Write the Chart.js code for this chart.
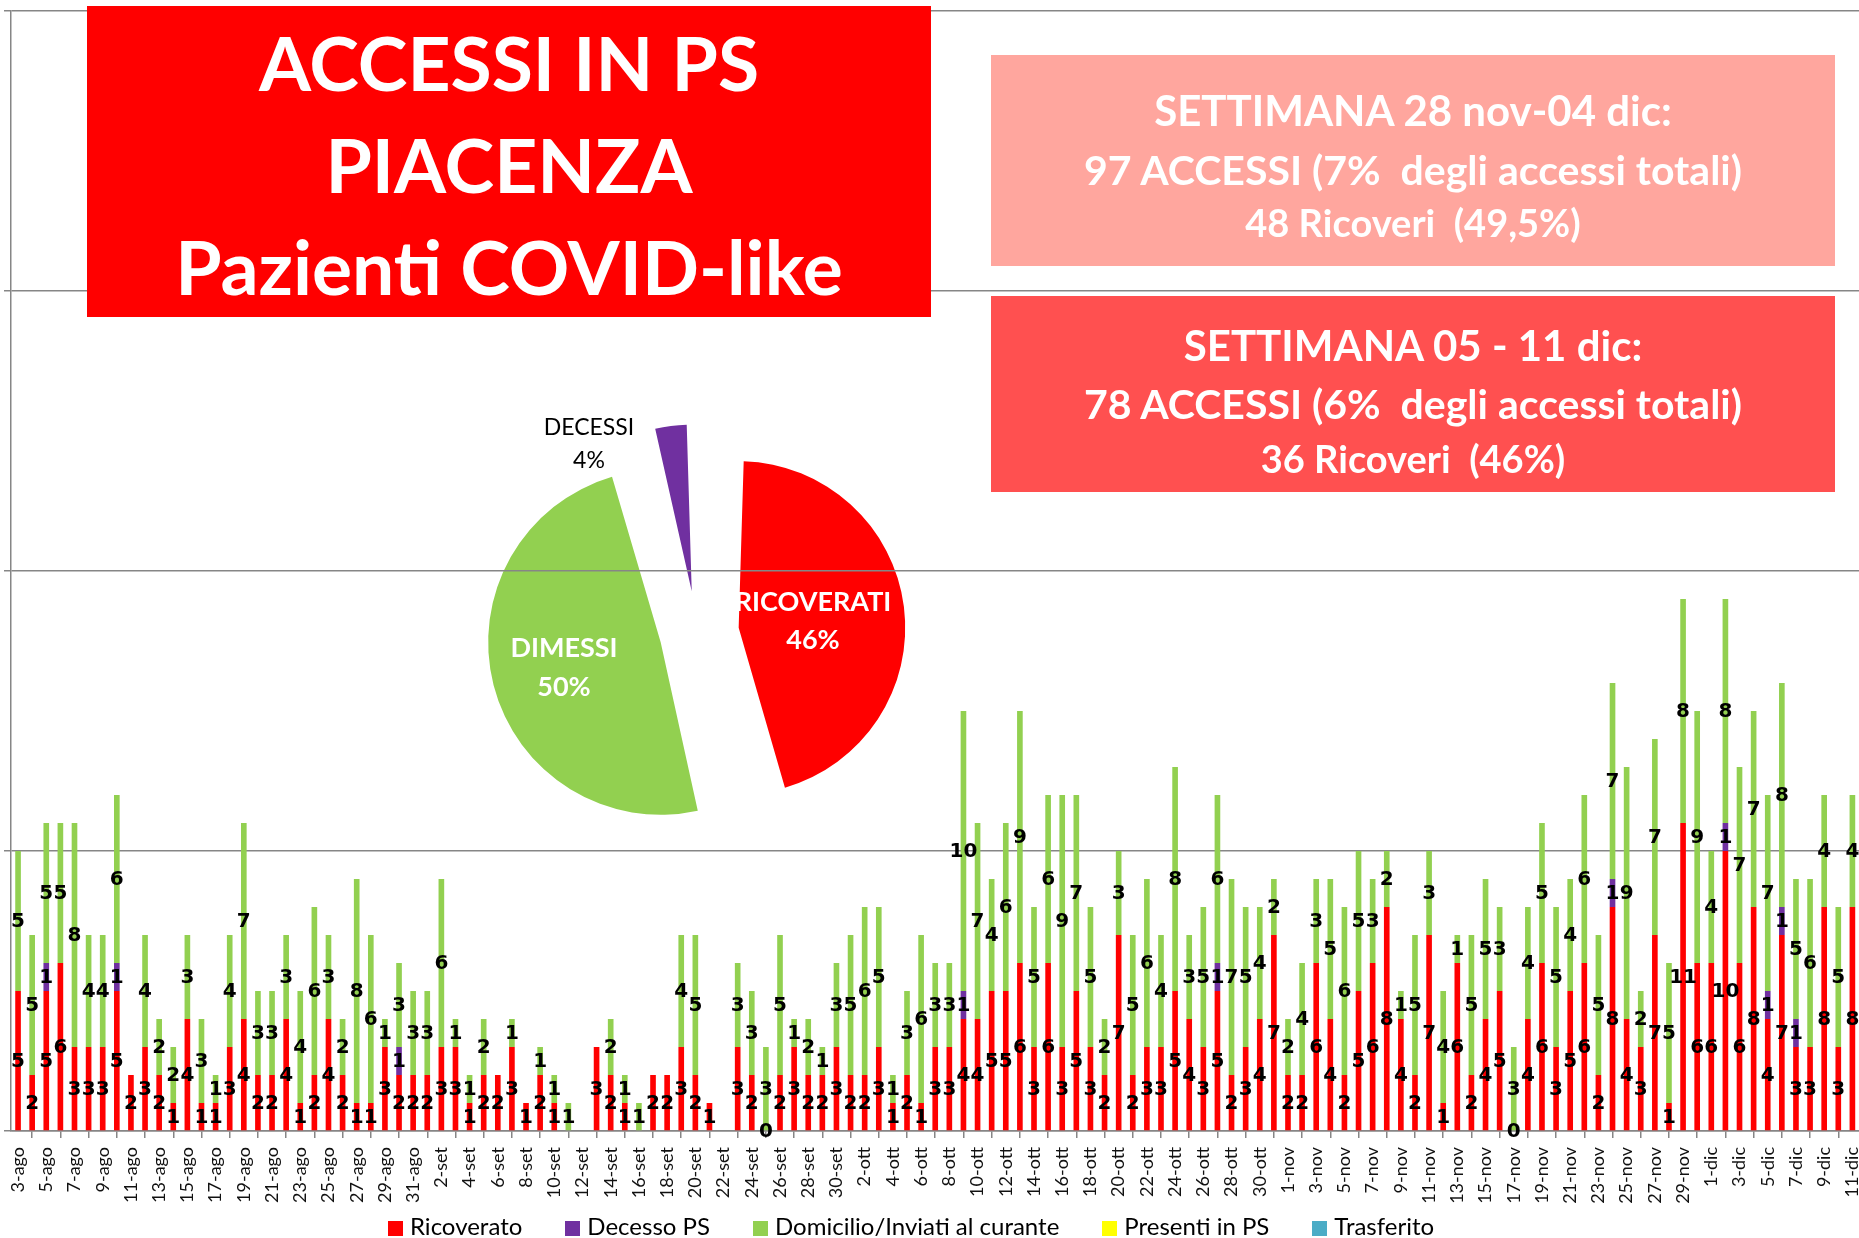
<!DOCTYPE html>
<html>
<head>
<meta charset="utf-8">
<script src="https://cdn.jsdelivr.net/npm/chart.js@4.4.0/dist/chart.umd.min.js"></script>
<style>
  body { margin: 0; background: #fff; width: 1859px; height: 1238px; overflow: hidden; position: relative; font-family: Lato, sans-serif; }
  #pie { position: absolute; left: 448px; top: 384px; }
  #bars { position: absolute; left: 0; top: 0; }
  .box { position: absolute; color: #fff; font-weight: bold; }
  .line { position: absolute; left: 0; right: 0; height: 100px; line-height: 100px; text-align: center; white-space: pre; }
  #legend { position: absolute; left: 388px; top: 1210px; height: 30px; display: flex; align-items: center; gap: 43px; font-size: 24px; color: #000; }
  #legend span.sw { display: inline-block; width: 15px; height: 15px; margin-right: 7px; vertical-align: middle; }
</style>
</head>
<body>
<canvas id="pie" width="498" height="498"></canvas>
<canvas id="bars" width="1883" height="1238"></canvas>

<div class="box" style="left:87px;top:6px;width:844px;height:311px;background:#FF0000;font-size:75px">
  <div class="line" style="top:6px">ACCESSI IN PS</div>
  <div class="line" style="top:108px">PIACENZA</div>
  <div class="line" style="top:210px">Pazienti COVID-like</div>
</div>
<div class="box" style="left:991px;top:55px;width:844px;height:211px;background:#FFA69E">
  <div class="line" style="top:5px;font-size:42px">SETTIMANA 28 nov-04 dic:</div>
  <div class="line" style="top:65px;font-size:41px">97 ACCESSI (7%  degli accessi totali)</div>
  <div class="line" style="top:117px;font-size:38px">48 Ricoveri  (49,5%)</div>
</div>
<div class="box" style="left:991px;top:296px;width:844px;height:196px;background:#FF5050">
  <div class="line" style="top:-1px;font-size:42px">SETTIMANA 05 - 11 dic:</div>
  <div class="line" style="top:58px;font-size:41px">78 ACCESSI (6%  degli accessi totali)</div>
  <div class="line" style="top:112px;font-size:38px">36 Ricoveri  (46%)</div>
</div>
<div id="legend"></div>

<script>
const _ = null;

// giorni 3-ago .. 11-dic
const months = [['ago', 3, 31], ['set', 1, 30], ['ott', 1, 31], ['nov', 1, 30], ['dic', 1, 11]];
const days = [];
months.forEach(([m, from, to]) => {
  for (let d = from; d <= to; d++) days.push(d + '-' + m);
});

const ricoverato = [
  5,2,5,6,3,3,3,5,2,3, 2,1,4,1,1,3,4,2,2,4, 1,2,4,2,1,1,3,2,2,            // ago
  2,3,3,1,2,2,3,1,2,1, _,_,3,2,1,_,2,2,3,2, 1,_,3,2,0,2,3,2,2,3,          // set
  2,2,3,1,2,1,3,3,4,4, 5,5,6,3,6,3,5,3,2,7, 2,3,3,5,4,3,5,2,3,4,7,        // ott
  2,2,6,4,2,5,6,8,4,2, 7,1,6,2,4,5,0,4,6,3, 5,6,2,8,4,3,7,1,11,6,         // nov
  6,10,6,8,4,7,3,3,8,3,8                                                  // dic
];
const decesso = [
  _,_,1,_,_,_,_,1,_,_, _,_,_,_,_,_,_,_,_,_, _,_,_,_,_,_,_,1,_,
  _,_,_,_,_,_,_,_,_,_, _,_,_,_,_,_,_,_,_,_, _,_,_,_,_,_,_,_,_,_,
  _,_,_,_,_,_,_,_,1,_, _,_,_,_,_,_,_,_,_,_, _,_,_,_,_,_,1,_,_,_,_,
  _,_,_,_,_,_,_,_,_,_, _,_,_,_,_,_,_,_,_,_, _,_,_,1,_,_,_,_,_,_,
  _,1,_,_,1,1,1,_,_,_,_
];
const domicilio = [
  5,5,5,5,8,4,4,6,_,4, 2,2,3,3,1,4,7,3,3,3, 4,6,3,2,8,6,1,3,3,
  3,6,1,1,2,_,1,_,1,1, 1,_,_,2,1,1,_,_,4,5, _,_,3,3,3,5,1,2,1,3,
  5,6,5,1,3,6,3,3,10,7, 4,6,9,5,6,9,7,5,2,3, 5,6,4,8,3,5,6,7,5,4,2,
  2,4,3,5,6,5,3,2,1,5, 3,4,1,5,5,3,3,4,5,5, 4,6,5,7,9,2,7,5,8,9,
  4,8,7,7,7,8,5,6,4,5,4
];
const presenti = [];
const trasferito = [];

const pieNames = ['RICOVERATI', 'DIMESSI', 'DECESSI'];
const pieValues = [46, 50, 4];

const GRAY = '#868686';

const barLabels = {
  id: 'barLabels',
  afterDatasetsDraw(chart) {
    const ctx = chart.ctx;
    ctx.save();
    ctx.font = 'bold 20px "DejaVu Sans"';
    ctx.fillStyle = '#000';
    ctx.textAlign = 'center';
    ctx.textBaseline = 'middle';
    chart.data.datasets.forEach((ds, i) => {
      chart.getDatasetMeta(i).data.forEach((bar, j) => {
        const v = ds.data[j];
        if (v == null) return;
        ctx.fillText(String(v), bar.x, (bar.y + bar.base) / 2 + 1);
      });
    });
    ctx.restore();
  }
};

const barChart = new Chart(document.getElementById('bars'), {
  type: 'bar',
  data: {
    labels: days,
    datasets: [
      { label: 'Ricoverato', data: ricoverato, backgroundColor: '#FF0000' },
      { label: 'Decesso PS', data: decesso, backgroundColor: '#7030A0' },
      { label: 'Domicilio/Inviati al curante', data: domicilio, backgroundColor: '#92D050' },
      { label: 'Presenti in PS', data: presenti, backgroundColor: '#FFFF00' },
      { label: 'Trasferito', data: trasferito, backgroundColor: '#4BACC6' }
    ]
  },
  options: {
    responsive: false,
    animation: false,
    barPercentage: 0.4,
    categoryPercentage: 1,
    layout: { padding: { top: 11, left: 4, right: 0, bottom: 0 } },
    plugins: { legend: { display: false }, tooltip: { enabled: false } },
    scales: {
      x: {
        stacked: true,
        grid: { offset: true, drawOnChartArea: false, tickLength: 7, color: GRAY, lineWidth: 1.5 },
        border: { color: GRAY, width: 1.5 },
        ticks: {
          autoSkip: false, minRotation: 90, maxRotation: 90, padding: 9,
          color: '#111', font: { family: 'Lato', size: 18 },
          callback: (v, i) => i % 2 === 0 ? days[i] : null
        },
        afterFit: s => { s.height = 107; }
      },
      y: {
        stacked: true, min: 0, max: 40,
        ticks: { display: false, stepSize: 10 },
        grid: { color: GRAY, lineWidth: 1.5, tickLength: 7 },
        border: { color: GRAY, width: 1.5 }
      }
    }
  },
  plugins: [barLabels]
});

// legenda
const legend = document.getElementById('legend');
barChart.data.datasets.forEach(ds => {
  const item = document.createElement('div');
  item.innerHTML = '<span class="sw" style="background:' + ds.backgroundColor + '"></span>' + ds.label;
  legend.appendChild(item);
});

const pieText = {
  id: 'pieText',
  afterDatasetsDraw(chart) {
    const ctx = chart.ctx;
    const a = chart.chartArea;
    const cx = (a.left + a.right) / 2, cy = (a.top + a.bottom) / 2;
    const place = [
      { dx: 116, dy: -31, gap: 38, font: 'bold 27px Lato', color: '#fff' },
      { dx: -133, dy: 15, gap: 39, font: 'bold 27px Lato', color: '#fff' },
      { dx: -108, dy: -205, gap: 33, font: '23px Lato', color: '#000' }
    ];
    ctx.save();
    ctx.textAlign = 'center';
    ctx.textBaseline = 'middle';
    chart.data.labels.forEach((name, i) => {
      const p = place[i];
      ctx.font = p.font;
      ctx.fillStyle = p.color;
      ctx.fillText(name, cx + p.dx, cy + p.dy);
      ctx.fillText(chart.data.datasets[0].data[i] + '%', cx + p.dx, cy + p.dy + p.gap);
    });
    ctx.restore();
  }
};

new Chart(document.getElementById('pie'), {
  type: 'pie',
  data: {
    labels: pieNames,
    datasets: [{
      data: pieValues,
      backgroundColor: ['#FF0000', '#92D050', '#7030A0'],
      borderWidth: 0,
      offset: [168, 150, 168]
    }]
  },
  options: {
    responsive: false,
    animation: false,
    layout: { padding: 30 },
    plugins: { legend: { display: false }, tooltip: { enabled: false } }
  },
  plugins: [pieText]
});
</script>
</body>
</html>
